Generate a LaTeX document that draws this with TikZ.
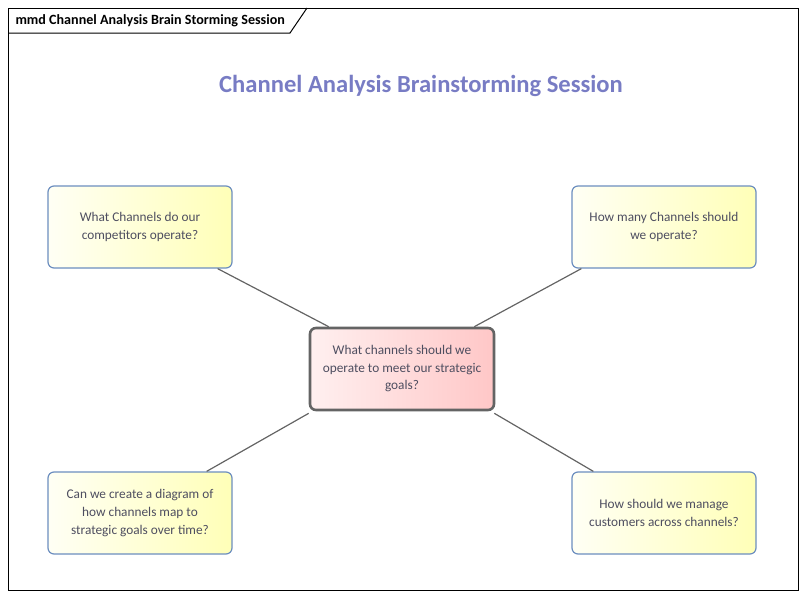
\documentclass[tikz,border=0pt]{standalone}
\usepackage{fontspec}
\setmainfont{Carlito}
\usetikzlibrary{calc}
\definecolor{titleblue}{RGB}{120,124,196}
\definecolor{textgray}{RGB}{78,78,96}
\definecolor{boxblue}{RGB}{108,142,191}
\definecolor{linegray}{RGB}{100,100,100}
\tikzset{
  idea/.style={draw=boxblue, line width=1.2pt, rounded corners=6pt,
    left color=yellow!4, right color=yellow!28,
    minimum width=184pt, minimum height=82pt, inner sep=0pt,
    align=center, text=textgray, font=\fontsize{13.3}{18}\selectfont},
  question/.style={draw=linegray, line width=2.6pt, rounded corners=6pt,
    left color=red!6, right color=red!22,
    minimum width=184pt, minimum height=82pt, inner sep=0pt,
    align=center, text=textgray, font=\fontsize{13.3}{17.5}\selectfont},
  link/.style={draw=linegray, line width=1.2pt}
}
\begin{document}
\begin{tikzpicture}[x=1pt, y=-1pt]
  \useasboundingbox (0,0) rectangle (807,598);

  % rahmen
  \draw[line width=1pt] (8,8) rectangle (798,590);
  \draw[line width=1pt] (8,33) -- (290,33) -- (307,8);
  \node[anchor=west, font=\bfseries\fontsize{14.1}{16}\selectfont] (frametitle) at (12,21)
    {mmd Channel Analysis Brain Storming Session};

  % titel
  \node[text=titleblue, font=\bfseries\fontsize{24.6}{28}\selectfont] (title) at (421,86)
    {Channel Analysis Brainstorming Session};

  % centrale vraag
  \node[question] (goal) at (402,369)
    {What channels should we\\operate to meet our strategic\\goals?};

  % ideeen
  \node[idea] (competitors) at (140,227) {What Channels do our\\competitors operate?};
  \node[idea] (howmany) at (664,227) {How many Channels should\\we operate?};
  \node[idea] (diagram) at (140,513) {Can we create a diagram of\\how channels map to\\strategic goals over time?};
  \node[idea] (customers) at (664,513) {How should we manage\\customers across channels?};

  % verbindingen
  \draw[link] ([xshift=-15pt]competitors.south east) -- ([xshift=20pt]goal.north west);
  \draw[link] ([xshift=10pt]howmany.south west) -- ([xshift=-21pt]goal.north east);
  \draw[link] ([xshift=-26pt]diagram.north east) -- ([yshift=-2pt]goal.south west);
  \draw[link] ([xshift=22pt]customers.north west) -- ([xshift=-1pt,yshift=-2pt]goal.south east);
\end{tikzpicture}
\end{document}
